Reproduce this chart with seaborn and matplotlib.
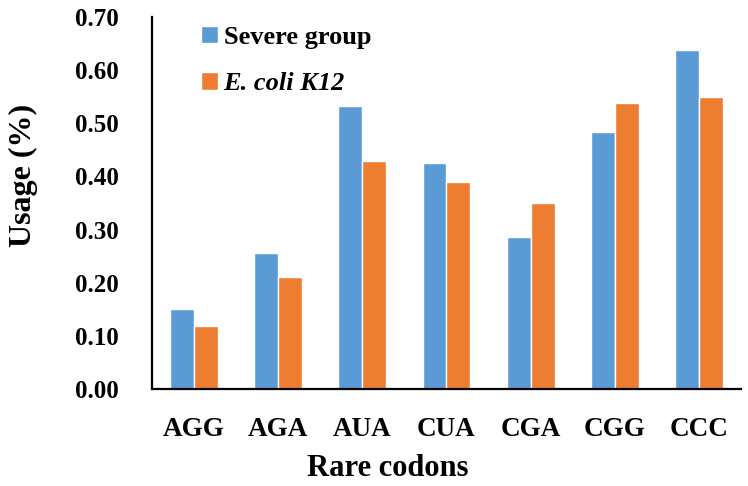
import matplotlib
matplotlib.use("Agg")
import matplotlib.pyplot as plt
import seaborn as sns
import pandas as pd

codons = ["AGG", "AGA", "AUA", "CUA", "CGA", "CGG", "CCC"]
severe_group = [0.151, 0.256, 0.532, 0.426, 0.286, 0.483, 0.638]
ecoli_k12 = [0.119, 0.210, 0.429, 0.389, 0.350, 0.539, 0.550]
series_names = ["Severe group", "E. coli K12"]
yticks = [0.0, 0.1, 0.2, 0.3, 0.4, 0.5, 0.6, 0.7]

df = pd.DataFrame({
    "codon": codons * 2,
    "usage": severe_group + ecoli_k12,
    "series": [series_names[0]] * len(codons) + [series_names[1]] * len(codons),
})

sns.set_style("white")
plt.rcParams["font.family"] = ["Liberation Serif", "DejaVu Serif"]
plt.rcParams["text.color"] = "black"
plt.rcParams["axes.labelcolor"] = "black"
plt.rcParams["xtick.color"] = "black"
plt.rcParams["ytick.color"] = "black"

fig = plt.figure(figsize=(7.48, 4.86), dpi=100)
ax = fig.add_axes([0.2032, 0.1996, 0.7874, 0.7654])

sns.barplot(data=df, x="codon", y="usage", hue="series", order=codons,
            hue_order=series_names, palette=["#5B9BD5", "#ED7D31"],
            width=0.57, saturation=1, ax=ax, errorbar=None)

ax.set_xlim(-0.5, 6.5)
ax.set_ylim(0, 0.7)
ax.set_yticks(yticks)
ax.set_yticklabels([f"{v:.2f}" for v in yticks], fontsize=18, fontweight="bold")
ax.set_xticks(range(len(codons)))
ax.set_xticklabels(codons, fontsize=19.5, fontweight="bold")
ax.tick_params(axis="both", length=0)
ax.tick_params(axis="y", pad=24)
ax.tick_params(axis="x", pad=20)

ax.set_xlabel("Rare codons", fontsize=22, fontweight="bold")
ax.set_ylabel("Usage (%)", fontsize=23, fontweight="bold")
ax.xaxis.set_label_coords(0.40, -0.176)
ax.yaxis.set_label_coords(-0.193, 0.575)

for s in ["top", "right"]:
    ax.spines[s].set_visible(False)
for s in ["left", "bottom"]:
    ax.spines[s].set_color("black")
    ax.spines[s].set_linewidth(1.6)

leg = ax.legend(loc="upper left", bbox_to_anchor=(0.0835, 0.977), frameon=False,
                borderpad=0, borderaxespad=0,
                handlelength=0.65, handleheight=0.65, labelspacing=0.9,
                handletextpad=0.2, prop={"size": 19, "weight": "bold"})
leg.get_texts()[1].set_fontstyle("italic")

fig.savefig("out.png", dpi=100)
